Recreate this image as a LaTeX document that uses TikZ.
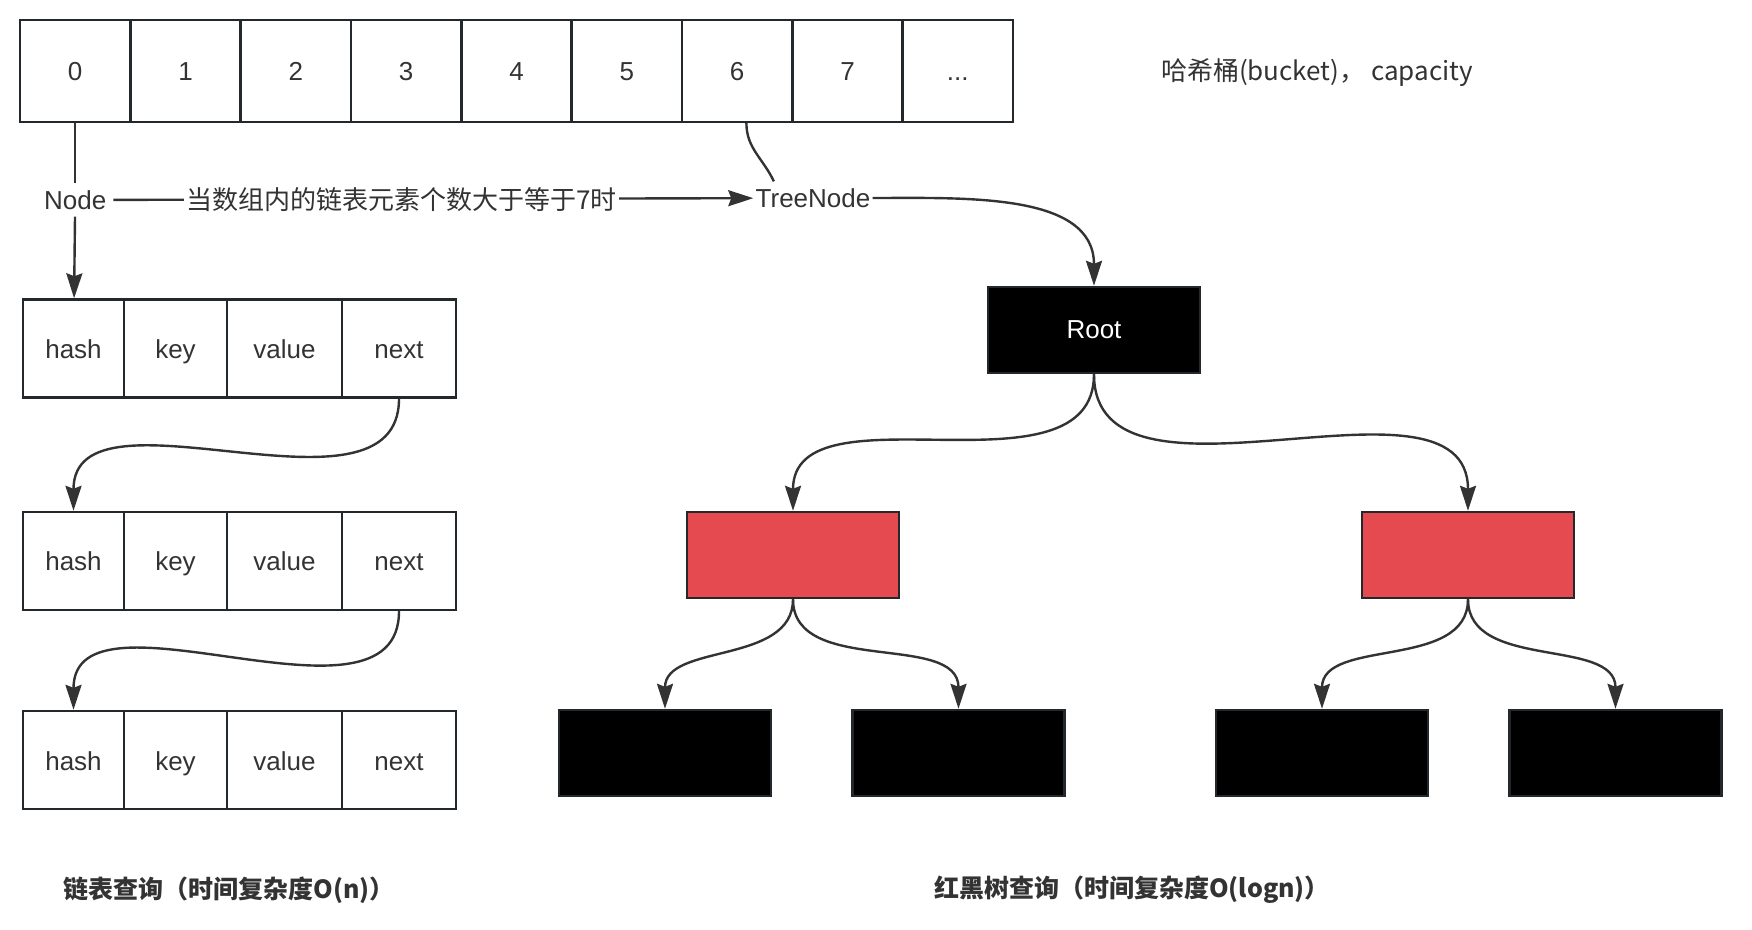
\documentclass[tikz,border=0pt]{standalone}
\usepackage{fontspec}
\setmainfont{Liberation Sans}
\newfontfamily\cjk{Noto Sans CJK SC}
\usepackage{tikz}
\usetikzlibrary{arrows.meta}
\definecolor{trait}{HTML}{333333}
\definecolor{bord}{HTML}{23282D}
\definecolor{rouge_rn}{HTML}{E54A50}

\begin{document}
\begin{tikzpicture}[x=0.5pt,y=-0.5pt,>={Stealth[length=12.5pt,width=8pt,inset=1.5pt]},
    every node/.style={font=\fontsize{13}{15}\selectfont,text=trait},
    bucket/.style={draw=bord,line width=1.2pt,minimum width=55.2pt,minimum height=51pt,inner sep=0pt,text height=10pt,text depth=0pt},
    field/.style={draw=bord,line width=1.2pt,minimum height=49pt,inner sep=0pt,text height=10pt,text depth=0pt},
    blacknode/.style={draw=bord,fill=black,line width=1.2pt,minimum width=106pt,minimum height=43pt},
    rednode/.style={blacknode,fill=rouge_rn},
    link/.style={->,draw=trait,line width=1.2pt}]

        \useasboundingbox (0,0) rectangle (1752,930);

        % Le tableau des seaux (buckets)
        \node[bucket] (c0) at (75.2,71) {0};
        \node[bucket] (c1) at (185.5,71) {1};
        \node[bucket] (c2) at (295.8,71) {2};
        \node[bucket] (c3) at (406.2,71) {3};
        \node[bucket] (c4) at (516.5,71) {4};
        \node[bucket] (c5) at (626.8,71) {5};
        \node[bucket] (c6) at (737.2,71) {6};
        \node[bucket] (c7) at (847.5,71) {7};
        \node[bucket] (c8) at (957.8,71) {...};
        \node (cap) at (1317,73) {\cjk 哈希桶(bucket)， capacity};

        % Les deux sortes de noeuds
        \node (node) at (75.2,200) {Node};
        \node[inner xsep=1pt] (tree) at (813,198) {TreeNode};

        % La liste chainee
        \node[field,minimum width=50.5pt] (h1) at (73.5,348.5) {hash};
        \node[field,minimum width=51.5pt] (k1) at (175.5,348.5) {key};
        \node[field,minimum width=57.5pt] (v1) at (284.5,348.5) {value};
        \node[field,minimum width=57pt] (n1) at (399,348.5) {next};
        \node[field,minimum width=50.5pt] (h2) at (73.5,561) {hash};
        \node[field,minimum width=51.5pt] (k2) at (175.5,561) {key};
        \node[field,minimum width=57.5pt] (v2) at (284.5,561) {value};
        \node[field,minimum width=57pt] (n2) at (399,561) {next};
        \node[field,minimum width=50.5pt] (h3) at (73.5,760) {hash};
        \node[field,minimum width=51.5pt] (k3) at (175.5,760) {key};
        \node[field,minimum width=57.5pt] (v3) at (284.5,760) {value};
        \node[field,minimum width=57pt] (n3) at (399,760) {next};

        % L'arbre rouge-noir
        \node[blacknode,text=white] (root) at (1094,330) {Root};
        \node[rednode] (redL) at (793,555) {};
        \node[rednode] (redR) at (1468,555) {};
        \node[blacknode] (leafA) at (665,753) {};
        \node[blacknode] (leafB) at (958.5,753) {};
        \node[blacknode] (leafC) at (1322,753) {};
        \node[blacknode] (leafD) at (1615.5,753) {};

        % Les liens
        \draw[trait,line width=1.2pt] (c0) -- (node);
        \draw[link] (node) -- (h1);
        \draw[link] (node) -- (tree) node[pos=0.45,fill=white,inner sep=1pt] {\cjk 当数组内的链表元素个数大于等于7时};
        \draw[trait,line width=1.2pt] (c6.-80) to[out=-90,in=115] (tree.157);
        \draw[link] (tree.east) to[out=0,in=90] (root.north);
        \draw[link] (n1.south) to[out=-90,in=90] (h2.north);
        \draw[link] (n2.south) to[out=-90,in=90] (h3.north);
        \draw[link] (root.south) to[out=-90,in=90] (redL.north);
        \draw[link] (root.south) to[out=-90,in=90] (redR.north);
        \draw[link] (redL.south) to[out=-90,in=90] (leafA.north);
        \draw[link] (redL.south) to[out=-90,in=90] (leafB.north);
        \draw[link] (redR.south) to[out=-90,in=90] (leafC.north);
        \draw[link] (redR.south) to[out=-90,in=90] (leafD.north);

        % Les legendes du bas
        \node[font=\fontsize{12.5}{15}\selectfont] (listq) at (229,890) {\cjk\bfseries 链表查询（时间复杂度O(n)）};
        \node[font=\fontsize{12.5}{15}\selectfont] (treeq) at (1132,890) {\cjk\bfseries 红黑树查询（时间复杂度O(logn)）};
    \end{tikzpicture}
\end{document}
